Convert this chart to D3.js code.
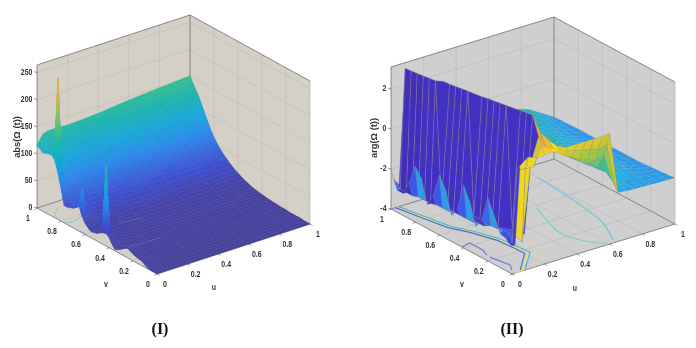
<!DOCTYPE html>
<html>
<head>
<meta charset="utf-8">
<script src="https://cdn.jsdelivr.net/npm/d3@7"></script>
<style>
    html, body { margin: 0; background: #fff; }
    svg { display: block; filter: blur(0.45px); }
    text { font-family: "Liberation Sans", Arial, sans-serif; fill: #333; }
</style>
</head>
<body>
<div id="block"></div>
<script>
// ticks
var axisTicks = [0, 0.2, 0.4, 0.6, 0.8, 1];
var absTicks = [0, 50, 100, 150, 200, 250];
var argTicks = [-4, -2, 0, 2];

// abs surface, rows run v = 1 .. 0, columns follow absU
var absU = [0, 0.02, 0.04, 0.07, 0.1, 0.2, 0.3, 0.4, 0.5, 0.6, 0.7, 0.8, 0.9, 1];
var absV = [1, 0.975, 0.95, 0.925, 0.9, 0.875, 0.85, 0.825, 0.8, 0.775, 0.75, 0.725, 0.7, 0.675, 0.65, 0.625, 0.6, 0.575, 0.55, 0.525, 0.5,
            0.475, 0.45, 0.425, 0.4, 0.375, 0.35, 0.325, 0.3, 0.275, 0.25, 0.225, 0.2, 0.175, 0.15, 0.125, 0.1, 0.075, 0.05, 0.025, 0];
var absZ = [
    [116, 125, 133, 136, 136, 135, 136, 138, 141, 144, 146, 148, 150, 152],
    [112, 120, 126, 128, 128, 127, 128, 130, 132, 135, 137, 139, 141, 142],
    [107, 113, 118, 120, 120, 118, 119, 120, 123, 126, 127, 129, 131, 132],
    [110, 112, 113, 112, 112, 110, 110, 111, 114, 116, 117, 119, 121, 122],
    [112, 110, 105, 102, 101, 98, 99, 100, 102, 105, 106, 107, 109, 110],
    [113, 106, 98, 92, 89, 86, 87, 88, 90, 92, 93, 95, 96, 97],
    [105, 258, 90, 82, 78, 76, 77, 77, 79, 81, 82, 83, 84, 85],
    [86, 70, 72, 70, 68, 65, 66, 66, 68, 69, 70, 71, 72, 73],
    [60, 55, 58, 58, 57, 56, 57, 57, 59, 60, 60, 61, 62, 63],
    [32, 38, 48, 50, 50, 49, 50, 50, 51, 52, 53, 54, 54, 55],
    [32, 35, 42, 44, 43, 43, 43, 44, 45, 46, 46, 47, 48, 48],
    [34, 34, 37, 38, 38, 37, 38, 38, 39, 40, 40, 41, 42, 42],
    [36, 36, 36, 35, 34, 33, 33, 34, 34, 35, 36, 36, 37, 37],
    [40, 42, 38, 33, 30, 28, 29, 29, 30, 30, 31, 31, 32, 32],
    [46, 78, 44, 32, 27, 25, 25, 25, 26, 27, 27, 27, 28, 28],
    [30, 34, 30, 26, 23, 21, 22, 22, 22, 23, 23, 23, 24, 24],
    [20, 22, 22, 20, 19, 19, 19, 19, 20, 20, 20, 20, 21, 21],
    [15, 16, 17, 17, 16, 16, 16, 16, 17, 17, 17, 18, 18, 18],
    [11, 12, 13, 13, 13, 14, 14, 14, 14, 14, 14, 15, 15, 15],
    [12, 12, 12, 12, 12, 12, 12, 12, 12, 12, 12, 13, 13, 13],
    [14, 14, 13, 12, 11, 10, 10, 10, 10, 10, 11, 11, 11, 11],
    [18, 18, 15, 12, 10, 8, 8, 8, 8, 8, 9, 9, 9, 9],
    [21, 143, 20, 14, 10, 7, 7, 7, 7, 8, 8, 8, 8, 8],
    [23, 24, 18, 12, 9, 6, 6, 6, 6, 7, 7, 7, 7, 7],
    [18, 18, 14, 10, 7, 5, 5, 5, 6, 6, 6, 6, 6, 6],
    [9, 10, 9, 7, 5, 4, 4, 4, 5, 5, 5, 5, 5, 5],
    [2, 4, 5, 5, 4, 3, 3, 3, 4, 4, 4, 4, 4, 4],
    [5, 6, 6, 5, 4, 3, 3, 3, 3, 3, 3, 3, 4, 4],
    [9, 9, 8, 6, 4, 3, 3, 3, 3, 3, 3, 3, 3, 3],
    [14, 13, 10, 6, 4, 2, 2, 2, 2, 2, 2, 2, 2, 3],
    [18, 16, 11, 6, 3, 2, 2, 2, 2, 2, 2, 2, 2, 2],
    [15, 14, 10, 5, 3, 2, 2, 2, 2, 2, 2, 2, 2, 2],
    [12, 11, 8, 4, 2, 1, 1, 1, 1, 1, 1, 2, 2, 2],
    [10, 9, 7, 4, 2, 1, 1, 1, 1, 1, 1, 1, 1, 1],
    [9, 8, 6, 3, 2, 1, 1, 1, 1, 1, 1, 1, 1, 1],
    [8, 7, 5, 3, 1, 1, 1, 1, 1, 1, 1, 1, 1, 1],
    [4, 4, 3, 2, 1, 0, 0, 0, 0, 0, 1, 1, 1, 1],
    [1, 2, 2, 1, 1, 0, 0, 0, 0, 0, 0, 0, 0, 1],
    [0, 1, 1, 1, 0, 0, 0, 0, 0, 0, 0, 0, 0, 0],
    [0, 0, 0, 1, 0, 0, 0, 0, 0, 0, 0, 0, 0, 0],
    [0, 0, 0, 0, 0, 0, 0, 0, 0, 0, 0, 0, 0, 0]
];

// arg surface, rows run v = 1 .. 0, columns follow argU
var argU = [0, 0.02, 0.05, 0.1, 0.15, 0.2, 0.25, 0.3, 0.35, 0.4, 0.45, 0.5, 0.55, 0.6, 0.65, 0.7, 0.75, 0.8, 0.85, 0.9, 0.95, 1];
var argV = [1, 0.95, 0.9, 0.85, 0.8, 0.75, 0.7, 0.65, 0.6, 0.55, 0.5, 0.45, 0.4, 0.35, 0.3, 0.25, 0.2, 0.15, 0.1, 0.05, 0.025, 0];
var argZ = [
    [-2.05, -2.6, -2.9, -0.2, -0.1, -0.1, -0.1, -0.2, -0.3, -0.4, -0.45, -0.55, -0.65, -0.75, -0.8, -0.85, -0.9, -1.0, -1.15, -1.4, -1.65, -1.9],
    [-2.9, -2.9, 3.07, -0.2, -0.1, -0.1, -0.1, -0.2, -0.3, -0.4, -0.45, -0.55, -0.65, -0.75, -0.8, -0.9, -0.95, -1.05, -1.2, -1.45, -1.68, -1.88],
    [-2.9, -2.9, 3.10, -0.2, -0.1, -0.1, -0.1, -0.2, -0.3, -0.4, -0.45, -0.55, -0.65, -0.75, -0.85, -0.95, -1.0, -1.1, -1.25, -1.5, -1.7, -1.87],
    [-2.2, -2.9, 3.14, -0.2, -0.1, -0.1, -0.1, -0.2, -0.3, -0.4, -0.45, -0.55, -0.65, -0.75, -0.85, -1.0, -1.1, -1.2, -1.35, -1.55, -1.72, -1.86],
    [-1.2, -2.8, 3.18, 0.0, -0.1, -0.1, -0.1, -0.2, -0.3, -0.4, -0.45, -0.55, -0.65, -0.75, -0.9, -1.05, -1.15, -1.3, -1.45, -1.6, -1.75, -1.85],
    [-1.65, -2.8, 3.22, 0.0, -0.1, -0.1, -0.1, -0.2, -0.3, -0.4, -0.45, -0.55, -0.65, -0.75, -0.9, -1.05, -1.2, -1.35, -1.5, -1.65, -1.75, -1.85],
    [-2.8, -2.8, 3.26, 3.10, -0.1, -0.1, -0.1, -0.2, -0.3, -0.4, -0.45, -0.55, -0.65, -0.75, -0.9, -1.05, -1.2, -1.35, -1.5, -1.65, -1.75, -1.85],
    [-2.2, -2.7, -2.8, 3.12, -0.1, -0.1, -0.1, -0.2, -0.3, -0.4, -0.45, -0.55, -0.65, -0.75, -0.9, -1.05, -1.2, -1.35, -1.5, -1.65, -1.75, -1.85],
    [-1.0, -2.7, -2.8, 3.17, -0.1, -0.1, -0.1, -0.2, -0.3, -0.4, -0.45, -0.55, -0.65, -0.75, -0.9, -1.05, -1.2, -1.35, -1.5, -1.65, -1.75, -1.85],
    [-1.55, -2.7, -2.8, 3.22, -0.1, -0.1, -0.1, -0.2, -0.3, -0.4, -0.45, -0.55, -0.65, -0.75, -0.9, -1.05, -1.2, -1.35, -1.5, -1.65, -1.75, -1.85],
    [-2.7, -2.6, -2.8, 3.27, 2.98, 0.0, -0.1, -0.2, -0.3, -0.4, -0.45, -0.55, -0.65, -0.75, -0.9, -1.05, -1.2, -1.35, -1.5, -1.65, -1.75, -1.85],
    [-2.2, -2.6, -2.7, -2.8, 3.03, 0.0, -0.1, -0.2, -0.3, -0.4, -0.45, -0.55, -0.65, -0.75, -0.9, -1.05, -1.2, -1.35, -1.5, -1.65, -1.75, -1.85],
    [-0.85, -2.6, -2.7, -2.8, 3.09, 0.1, 0.0, -0.05, -0.1, -0.15, -0.25, -0.4, -0.55, -0.75, -0.9, -1.05, -1.2, -1.35, -1.5, -1.65, -1.75, -1.85],
    [-1.5, -2.6, -2.7, -2.8, 3.14, 0.3, 0.2, 0.15, 0.1, 0.05, 0.05, -0.15, -0.45, -0.75, -0.9, -1.05, -1.2, -1.35, -1.5, -1.65, -1.75, -1.85],
    [-2.6, -2.5, -2.7, -2.8, 3.19, 0.5, 0.4, 0.35, 0.3, 0.25, 0.15, 0.0, -0.35, -0.7, -0.9, -1.05, -1.2, -1.35, -1.5, -1.65, -1.75, -1.85],
    [-2.1, -2.4, -2.5, -2.8, 3.24, 2.96, 0.7, 0.6, 0.5, 0.5, 0.2, -0.1, -0.4, -0.65, -0.85, -1.05, -1.2, -1.35, -1.5, -1.65, -1.75, -1.82],
    [-0.85, -2.3, -2.4, -2.7, -2.8, 3.02, 0.9, 0.8, 0.7, 0.55, 0.25, 0.0, -0.35, -0.65, -0.9, -1.05, -1.25, -1.4, -1.5, -1.65, -1.72, -1.8],
    [-1.5, -2.2, -2.3, -2.6, -2.8, 3.07, 1.4, 1.1, 0.8, 0.6, 0.3, 0.05, -0.3, -0.6, -0.9, -1.05, -1.3, -1.45, -1.55, -1.65, -1.72, -1.78],
    [-2.3, -2.2, -2.2, -2.6, -2.7, 3.13, 2.1, 1.6, 1.2, 1.0, 0.4, 0.2, -0.15, -0.48, -0.85, -1.3, -1.5, -1.55, -1.6, -1.65, -1.7, -1.75],
    [-2.4, -2.2, -2.3, -2.8, 0.9, 2.2, 1.5, 1.2, 0.9, 0.7, 0.45, 0.3, 0.15, 0.3, -1.1, -1.45, -1.55, -1.6, -1.62, -1.65, -1.68, -1.72],
    [-2.55, -2.55, 1.0, 0.95, 0.9, 1.8, 1.6, 1.4, 1.2, 1.1, 1.0, 0.9, 0.8, 0.85, -1.3, -1.5, -1.58, -1.62, -1.64, -1.66, -1.68, -1.71],
    [-2.6, -2.6, 1.3, 1.6, 1.4, 1.45, 1.45, 1.45, 1.5, 1.5, 1.5, 1.5, 1.5, 1.55, -1.55, -1.6, -1.62, -1.64, -1.65, -1.67, -1.68, -1.7]
];
// cells coloured apart from their height: [v, u, value]
var argCellFix = [
    [0.7, 0.05, -2.8], [0.5, 0.1, -2.8], [0.25, 0.15, -2.8],
    [0.05, 0.05, 1.5], [0.05, 0.1, 1.5], [0.025, 0.05, 1.5], [0.025, 0.1, 1.5], [0.025, 0.15, 1.5],
    [0.8, 0, -1.6], [0.6, 0, -1.6], [0.4, 0, -1.6], [0.2, 0, -1.6]
];

// floor contours as [u, v] pairs
var absContours = [
    [[0.094, 0.944], [0.022, 0.878], [0.0, 0.789], [0.039, 0.758], [0.136, 0.79]],
    [[0.005, 0.648], [0.0, 0.585]]
];
var absContourColors = ["#88b8d8", "#6f90d0"];
var absOverlay = [
    [[0.22, 0.606], [0.36, 0.576]],
    [[0.082, 0.347], [0.28, 0.333]]
];
var argContours = [
    [[0.803, 0.875], [0.777, 0.542], [0.755, 0.373], [0.726, 0.226], [0.642, 0.03]],
    [[0.58, 0.58], [0.52, 0.40], [0.485, 0.257], [0.525, 0.104], [0.6, 0.0]],
    [[0.306, 0.288], [0.27, 0.116], [0.13, 0.005]],
    [[0.037, 1.0], [0.067, 0.826], [0.099, 0.646], [0.153, 0.529], [0.2, 0.369], [0.209, 0.24], [0.215, 0.158], [0.072, 0.006], [0.02, 0.0]],
    [[0.047, 1.0], [0.077, 0.826], [0.109, 0.646], [0.163, 0.529], [0.21, 0.369], [0.222, 0.24], [0.228, 0.158], [0.085, 0.006]],
    [[0.027, 1.0], [0.055, 0.826], [0.087, 0.646], [0.141, 0.529], [0.188, 0.369], [0.197, 0.24], [0.2, 0.165], [0.06, 0.012]],
    [[0.0, 0.415], [0.06, 0.43], [0.06, 0.322], [0.04, 0.26]],
    [[0.037, 0.232], [0.058, 0.094], [0.029, 0.039]]
];
var argContourColors = ["#7fc0dc", "#86ccc0", "#e8cc98", "#e6e070", "#48bcd0", "#5568d8", "#7080d8", "#7080d8"];

var absStops = [0, 15, 34, 70, 100, 125, 150, 180, 215, 245, 258];
var absColors = ["#46429c", "#4544a8", "#4050d0", "#2c88ec", "#18a8d8", "#1cb4b4", "#38be90", "#80c468", "#d0b84a", "#dcae48", "#a8a098"];
var argStops = [-3.2, -2.6, -2.2, -1.85, -1.3, -1, -0.5, 0, 0.5, 1, 1.6, 2.1, 3.14];
var argColors = ["#3e2ab0", "#4434c8", "#3c58ec", "#2c90ea", "#22aee8", "#22b4b8", "#37c090", "#80c660", "#abc739", "#dcc630", "#f0dc1c", "#f0b834", "#e8a830"];

var svg = d3.select("#block")
            .append("svg")
            .attr("width", 696)
            .attr("height", 348);

function panel(o) {
    var g = svg.append("g");

    // projection, all offsets measured from the front floor corner
    var uX = d3.scaleLinear().domain([0, 1]).range([0, o.uDx]),
        uY = d3.scaleLinear().domain([0, 1]).range([0, o.uDy]),
        vX = d3.scaleLinear().domain([0, 1]).range([0, o.vDx]),
        vY = d3.scaleLinear().domain([0, 1]).range([0, o.vDy]),
        zY = d3.scaleLinear().domain(o.zDomain).range([0, o.zPx]);

    function pt(u, v, z) {
        return [o.x0 + uX(u) + vX(v), o.y0 + uY(u) + vY(v) + zY(z)];
    }

    var line = d3.line();
    var smoothLine = d3.line().curve(d3.curveCatmullRom);
    var color = d3.scaleLinear().domain(o.stops).range(o.colors).clamp(true);
    var zMin = o.zDomain[0], zMax = o.zDomain[1];

    // floor and back walls
    var walls = [
        [pt(0, 0, zMin), pt(1, 0, zMin), pt(1, 1, zMin), pt(0, 1, zMin)],
        [pt(0, 1, zMin), pt(1, 1, zMin), pt(1, 1, zMax), pt(0, 1, zMax)],
        [pt(1, 1, zMin), pt(1, 0, zMin), pt(1, 0, zMax), pt(1, 1, zMax)]
    ];
    g.selectAll("path.wall")
     .data(walls)
     .enter()
     .append("path")
     .attr("class", "wall")
     .attr("d", function(d) { return line(d) + "Z"; })
     .attr("fill", o.wall);

    // grid
    var grid = [];
    axisTicks.slice(1, 5).forEach(function(t) {
        grid.push([pt(t, 0, zMin), pt(t, 1, zMin), pt(t, 1, zMax)]);
        grid.push([pt(0, t, zMin), pt(1, t, zMin), pt(1, t, zMax)]);
    });
    o.zTicks.forEach(function(t) {
        if (t > zMin) grid.push([pt(0, 1, t), pt(1, 1, t), pt(1, 0, t)]);
    });
    g.selectAll("path.grid")
     .data(grid)
     .enter()
     .append("path")
     .attr("class", "grid")
     .attr("d", line)
     .attr("fill", "none")
     .attr("stroke", o.gridColor)
     .attr("stroke-width", 0.7);

    // box edges
    var edges = [
        [pt(0, 1, zMin), pt(0, 1, zMax), pt(1, 1, zMax), pt(1, 0, zMax)],
        [pt(1, 1, zMin), pt(1, 1, zMax)],
        [pt(0, 1, zMin), pt(1, 1, zMin), pt(1, 0, zMin)],
        [pt(0, 1, zMin), pt(0, 0, zMin), pt(1, 0, zMin)]
    ];
    g.selectAll("path.edge")
     .data(edges)
     .enter()
     .append("path")
     .attr("class", "edge")
     .attr("d", line)
     .attr("fill", "none")
     .attr("stroke", "#6e6e6e")
     .attr("stroke-width", 0.8);
    g.append("path")
     .attr("d", line([pt(1, 0, zMin), pt(1, 0, zMax)]))
     .attr("stroke", "#a9a9a9")
     .attr("stroke-width", 0.6);

    // floor contours, the first few are the smooth ones
    g.selectAll("path.contour")
     .data(o.contours)
     .enter()
     .append("path")
     .attr("class", "contour")
     .attr("d", function(d, i) {
         var p = d.map(function(q) { return pt(q[0], q[1], zMin); });
         return i < o.smoothContours ? smoothLine(p) : line(p);
     })
     .attr("fill", "none")
     .attr("stroke", function(d, i) { return o.contourColors[i]; })
     .attr("stroke-width", o.contourWidth);

    // surface cells, split only to shade them in panel I
    var cells = [];
    for (var r = 0; r < o.v.length - 1; r++) {
        for (var c = 0; c < o.u.length - 1; c++) {
            var u0 = o.u[c], u1 = o.u[c + 1], v1 = o.v[r], v0 = o.v[r + 1];
            var z01 = o.z[r][c], z11 = o.z[r][c + 1], z00 = o.z[r + 1][c], z10 = o.z[r + 1][c + 1];
            if (o.flat) {
                var fix = o.cellFix.filter(function(f) { return f[0] === v1 && f[1] === u0; })[0];
                cells.push({
                    depth: u0 + u1 + v0 + v1,
                    fill: color(fix ? fix[2] : z01),
                    mesh: 0.12 + 0.5 * Math.min(1, d3.max([z00, z01, z10, z11]) - d3.min([z00, z01, z10, z11])),
                    pts: [pt(u0, v0, z00), pt(u1, v0, z10), pt(u1, v1, z11), pt(u0, v1, z01)]
                });
            } else {
                var range = d3.max([z00, z01, z10, z11]) - d3.min([z00, z01, z10, z11]);
                var n = Math.min(12, Math.ceil(range / 6) || 1);
                for (var a = 0; a < n; a++) {
                    for (var b = 0; b < n; b++) {
                        cells.push(subCell(a / n, (a + 1) / n, b / n, (b + 1) / n, u0, u1, v0, v1, z00, z10, z01, z11));
                    }
                }
            }
        }
    }
    function subCell(s0, s1, t0, t1, u0, u1, v0, v1, z00, z10, z01, z11) {
        function zAt(s, t) {
            return z00 * (1 - s) * (1 - t) + z10 * s * (1 - t) + z01 * (1 - s) * t + z11 * s * t;
        }
        var uA = u0 + (u1 - u0) * s0, uB = u0 + (u1 - u0) * s1,
            vA = v0 + (v1 - v0) * t0, vB = v0 + (v1 - v0) * t1;
        var zs = [zAt(s0, t0), zAt(s1, t0), zAt(s1, t1), zAt(s0, t1)];
        return {
            depth: uA + uB + vA + vB,
            fill: color(d3.mean(zs)),
            pts: [pt(uA, vA, zs[0]), pt(uB, vA, zs[1]), pt(uB, vB, zs[2]), pt(uA, vB, zs[3])]
        };
    }
    cells.sort(function(a, b) { return b.depth - a.depth; });

    g.selectAll("path.cell")
     .data(cells)
     .enter()
     .append("path")
     .attr("class", "cell")
     .attr("d", function(d) { return line(d.pts) + "Z"; })
     .attr("fill", function(d) { return d.fill; })
     .attr("stroke", function(d) { return o.flat ? o.mesh : d.fill; })
     .attr("stroke-opacity", function(d) { return o.flat ? d.mesh : 1; })
     .attr("stroke-width", o.flat ? 0.5 : 0.4);

    // faint contour traces over the surface
    g.selectAll("path.overlay")
     .data(o.overlay || [])
     .enter()
     .append("path")
     .attr("class", "overlay")
     .attr("d", function(d) {
         return line(d.map(function(p) { return pt(p[0], p[1], zMin); }));
     })
     .attr("fill", "none")
     .attr("stroke", "#7f84d4")
     .attr("stroke-opacity", 0.55)
     .attr("stroke-width", 0.7);

    // tick marks and labels
    function label(x, y, s, anchor) {
        g.append("text")
         .attr("transform", "translate(" + x + "," + y + ") scale(0.82,1)")
         .attr("text-anchor", anchor || "middle")
         .attr("dy", "0.35em")
         .attr("font-size", 8.5)
         .attr("font-weight", 600)
         .text(s);
    }
    axisTicks.forEach(function(t) {
        var a = pt(t, 0, zMin), b = pt(0, t, zMin);
        g.append("path").attr("d", line([a, [a[0] + 2.5, a[1] + 1.5]])).attr("stroke", "#555").attr("stroke-width", 0.6);
        g.append("path").attr("d", line([b, [b[0] - 2.5, b[1] + 1.5]])).attr("stroke", "#555").attr("stroke-width", 0.6);
        label(a[0] + 8, a[1] + 10, String(t));
        label(b[0] - 9, b[1] + 10, String(t));
    });
    o.zTicks.forEach(function(t) {
        var a = pt(0, 1, t);
        g.append("path").attr("d", line([a, [a[0] - 3, a[1] - 1]])).attr("stroke", "#555").attr("stroke-width", 0.6);
        label(a[0] - 4.5, a[1] - 1, String(t), "end");
    });

    label(o.uLabel[0], o.uLabel[1], "u");
    label(o.vLabel[0], o.vLabel[1], "v");
    g.append("text")
     .attr("transform", "translate(" + o.zLabel[0] + "," + o.zLabel[1] + ") rotate(-90) scale(1.1,1)")
     .attr("text-anchor", "middle")
     .attr("font-size", 8.5)
     .attr("font-weight", 600)
     .text(o.zName);

    g.append("text")
     .attr("x", o.caption[0])
     .attr("y", o.caption[1])
     .attr("text-anchor", "middle")
     .attr("font-size", 16)
     .attr("font-weight", 700)
     .style("font-family", "'Liberation Serif', serif")
     .style("fill", "#111")
     .text(o.captionText);
}

panel({
    x0: 157, y0: 274, uDx: 153, uDy: -50, vDx: -120, vDy: -66,
    zDomain: [0, 264], zPx: -143,
    zTicks: absTicks,
    wall: "#d4d0c8", gridColor: "#c2bfb8",
    u: absU, v: absV, z: absZ, flat: false,
    stops: absStops, colors: absColors,
    contours: absContours, contourColors: absContourColors, contourWidth: 0.8, smoothContours: 1,
    overlay: absOverlay,
    uLabel: [214, 287], vLabel: [106, 284], zLabel: [20, 137], zName: "abs(Ω (t))",
    caption: [160, 334], captionText: "(I)"
});

panel({
    x0: 512, y0: 274, uDx: 163, uDy: -50, vDx: -121, vDy: -65,
    zDomain: [-4, 3.1], zPx: -142,
    zTicks: argTicks,
    wall: "#cfcfcf", gridColor: "#bcbcbc",
    u: argU, v: argV, z: argZ, flat: true, mesh: "#8f8ba0", cellFix: argCellFix,
    stops: argStops, colors: argColors,
    contours: argContours, contourColors: argContourColors, contourWidth: 1.2, smoothContours: 3,
    uLabel: [575, 288], vLabel: [462, 284], zLabel: [377, 138], zName: "arg(Ω (t))",
    caption: [512, 334], captionText: "(II)"
});
</script>
</body>
</html>
